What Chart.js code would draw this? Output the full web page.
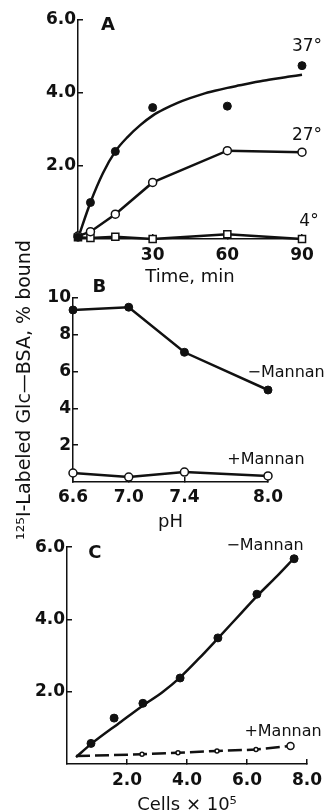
<!DOCTYPE html>
<html>
<head>
<meta charset="utf-8">
<script src="https://cdn.jsdelivr.net/npm/chart.js@4.4.1/dist/chart.umd.min.js"></script>
<style>
  html, body { margin: 0; padding: 0; background: #fff; overflow: hidden; }
  body { width: 335px; height: 812px; position: relative; }
  canvas { position: absolute; left: 0; }
</style>
</head>
<body>
<canvas id="panelA" width="335" height="290" style="top:0px"></canvas>
<canvas id="panelB" width="335" height="320" style="top:230px"></canvas>
<canvas id="panelC" width="335" height="290" style="top:530px"></canvas>
<script>
// Panel A: binding vs time at three temperatures
const timeMin = [0, 5, 15, 30, 60, 90];
const bound37 = [0.05, 1.0, 2.4, 3.6, 3.64, 4.75];
const bound27 = [0.08, 0.2, 0.68, 1.55, 2.42, 2.38];
const bound4 = [0.05, 0.03, 0.06, 0.0, 0.13, 0.0];
// hand-drawn fitted curve through the 37° points
const fit37Time = [0, 5, 10, 15, 20, 25, 30, 35, 40, 45, 50, 55, 60, 65, 70, 75, 80, 85, 90];
const fit37 = [0.02, 1.0, 1.8, 2.4, 2.8, 3.12, 3.38, 3.57, 3.73, 3.86, 3.97, 4.06, 4.14, 4.21, 4.28, 4.34, 4.4, 4.45, 4.5];
const aXTicks = [30, 60, 90];
const aYTicks = [2, 4, 6];

// Panel B: binding vs pH
const phValues = [6.6, 7.0, 7.4, 8.0];
const minusMannanB = [9.35, 9.5, 7.05, 5.0];
const plusMannanB = [0.49, 0.27, 0.54, 0.33];
const bXTicks = [6.6, 7.0, 7.4, 8.0];
const bYTicks = [2, 4, 6, 8, 10];

// Panel C: binding vs number of cells
const cells = [0.8, 1.57, 2.53, 3.77, 5.03, 6.33, 7.57];
const minusMannanC = [0.57, 1.27, 1.68, 2.38, 3.49, 4.7, 5.68];
const fitCells = [0.3, 0.8, 1.8, 2.5, 3.2, 3.8, 4.4, 5.0, 5.8, 6.3, 7.0, 7.55];
const fitMinusC = [0.19, 0.55, 1.17, 1.6, 2.0, 2.42, 2.92, 3.45, 4.17, 4.62, 5.2, 5.68];
const plusCells = [0.3, 2.5, 3.7, 5.0, 6.3, 7.45];
const plusMannanC = [0.22, 0.27, 0.31, 0.36, 0.4, 0.5];
const cXTicks = [2, 4, 6, 8];
const cYTicks = [2, 4, 6];

const INK = '#111';
const FAMILY = "'DejaVu Sans', sans-serif";
Chart.defaults.font.family = FAMILY;
Chart.defaults.color = INK;

const toPoints = (xs, ys) => xs.map((x, i) => ({ x: x, y: ys[i] }));

// text labels placed in data space
const panelLabels = {
    id: 'panelLabels',
    afterDraw(chart, args, opts) {
        const { ctx, scales: { x, y } } = chart;
        ctx.save();
        ctx.fillStyle = INK;
        ctx.textAlign = 'center';
        ctx.textBaseline = 'middle';
        (opts.items || []).forEach(it => {
            ctx.font = it.font;
            ctx.fillText(it.text, x.getPixelForValue(it.x), y.getPixelForValue(it.y));
        });
        ctx.restore();
    }
};

function axis(cfg) {
    const scale = {
        type: 'linear',
        min: cfg.min,
        max: cfg.max,
        border: { display: true, color: INK, width: 1.5 },
        grid: { drawOnChartArea: false, drawTicks: true, tickLength: -5, color: INK, lineWidth: 1.5 },
        ticks: {
            padding: cfg.padding,
            font: { size: 17, weight: 'bold' },
            color: INK,
            maxRotation: 0,
            callback: v => cfg.digits ? v.toFixed(cfg.digits) : String(v)
        },
        afterBuildTicks: s => { s.ticks = cfg.ticks.map(v => ({ value: v })); },
        afterFit: s => {
            if (cfg.width) s.width = cfg.width;
            if (cfg.height) s.height = cfg.height;
        }
    };
    if (cfg.title) {
        scale.title = {
            display: true,
            text: cfg.title,
            font: { size: cfg.titleSize || 18 },
            color: INK,
            padding: cfg.titlePadding
        };
    }
    return scale;
}

const filled = { pointStyle: 'circle', pointRadius: 4, pointBackgroundColor: INK, pointBorderColor: INK, pointBorderWidth: 1 };
const open = { pointStyle: 'circle', pointRadius: 4, pointBackgroundColor: '#fff', pointBorderColor: INK, pointBorderWidth: 1.5 };

function baseOptions(padding, scales, labels) {
    return {
        responsive: false,
        animation: false,
        devicePixelRatio: 1,
        layout: { padding: padding },
        plugins: {
            legend: { display: false },
            tooltip: { enabled: false },
            panelLabels: { items: labels }
        },
        scales: scales
    };
}

// ---- Panel A ----
new Chart(document.getElementById('panelA').getContext('2d'), {
    type: 'scatter',
    data: {
        datasets: [
            Object.assign({ data: toPoints(timeMin, bound37), showLine: false, clip: false }, filled),
            Object.assign({ data: toPoints(timeMin, bound27), showLine: true, borderColor: INK, borderWidth: 2.5, tension: 0, clip: false }, open),
            Object.assign({ data: toPoints(timeMin, bound4), showLine: true, borderColor: INK, borderWidth: 2.5, tension: 0, clip: false },
                open, { pointStyle: 'rect', pointRadius: 5 }),
            { data: toPoints(fit37Time, fit37), showLine: true, borderColor: INK, borderWidth: 2.5,
              cubicInterpolationMode: 'monotone', pointRadius: 0, clip: false }
        ]
    },
    options: baseOptions({ top: 20, left: 0, right: 33, bottom: 0 }, {
        x: axis({ min: 0, max: 90, ticks: aXTicks, padding: 11, height: 51,
                  title: 'Time, min', titlePadding: { top: 0, bottom: 2 } }),
        y: axis({ min: 0, max: 6, ticks: aYTicks, digits: 1, padding: 7, width: 78 })
    }, [
        { text: 'A', x: 12, y: 5.86, font: "bold 18px " + FAMILY },
        { text: '37°', x: 92, y: 5.26, font: "17px " + FAMILY },
        { text: '27°', x: 92, y: 2.82, font: "17px " + FAMILY },
        { text: '4°', x: 92.8, y: 0.49, font: "17px " + FAMILY }
    ]),
    plugins: [panelLabels]
});

// ---- Panel B ----
new Chart(document.getElementById('panelB').getContext('2d'), {
    type: 'scatter',
    data: {
        datasets: [
            Object.assign({ data: toPoints(phValues, minusMannanB), showLine: true, borderColor: INK, borderWidth: 2.5, tension: 0, clip: false }, filled),
            Object.assign({ data: toPoints(phValues, plusMannanB), showLine: true, borderColor: INK, borderWidth: 2.5, tension: 0, clip: false }, open)
        ]
    },
    options: baseOptions({ top: 68, left: 0, right: 67, bottom: 0 }, {
        x: axis({ min: 6.6, max: 8.0, ticks: bXTicks, digits: 1, padding: 10, height: 68,
                  title: 'pH', titlePadding: { top: 0, bottom: 17 } }),
        y: axis({ min: 0, max: 10, ticks: bYTicks, padding: 7, width: 73,
                  title: '¹²⁵I-Labeled Glc—BSA, % bound', titleSize: 19, titlePadding: { top: 14, bottom: 0 } })
    }, [
        { text: 'B', x: 6.79, y: 10.6, font: "bold 18px " + FAMILY },
        { text: '−Mannan', x: 8.13, y: 5.92, font: "16px " + FAMILY },
        { text: '+Mannan', x: 7.985, y: 1.2, font: "16px " + FAMILY }
    ]),
    plugins: [panelLabels]
});

// ---- Panel C ----
new Chart(document.getElementById('panelC').getContext('2d'), {
    type: 'scatter',
    data: {
        datasets: [
            Object.assign({ data: toPoints(cells, minusMannanC), showLine: false, clip: false }, filled),
            Object.assign({ data: toPoints(plusCells, plusMannanC), showLine: true, borderColor: INK, borderWidth: 2.5,
                            borderDash: [14, 5], tension: 0, clip: false }, open, { pointRadius: [0, 2, 2, 2, 2, 3.5] }),
            { data: toPoints(fitCells, fitMinusC), showLine: true, borderColor: INK, borderWidth: 2.5,
              cubicInterpolationMode: 'monotone', pointRadius: 0, clip: false }
        ]
    },
    options: baseOptions({ top: 13, left: 0, right: 28, bottom: 0 }, {
        x: axis({ min: 0, max: 8, ticks: cXTicks, digits: 1, padding: 11, height: 56,
                  title: 'Cells × 10⁵', titlePadding: { top: 0, bottom: 4 } }),
        y: axis({ min: 0, max: 6, ticks: cYTicks, digits: 1, padding: 7, width: 67 })
    }, [
        { text: 'C', x: 0.93, y: 5.84, font: "bold 18px " + FAMILY },
        { text: '−Mannan', x: 6.6, y: 6.05, font: "16px " + FAMILY },
        { text: '+Mannan', x: 7.2, y: 0.9, font: "16px " + FAMILY }
    ]),
    plugins: [panelLabels]
});
</script>
</body>
</html>
